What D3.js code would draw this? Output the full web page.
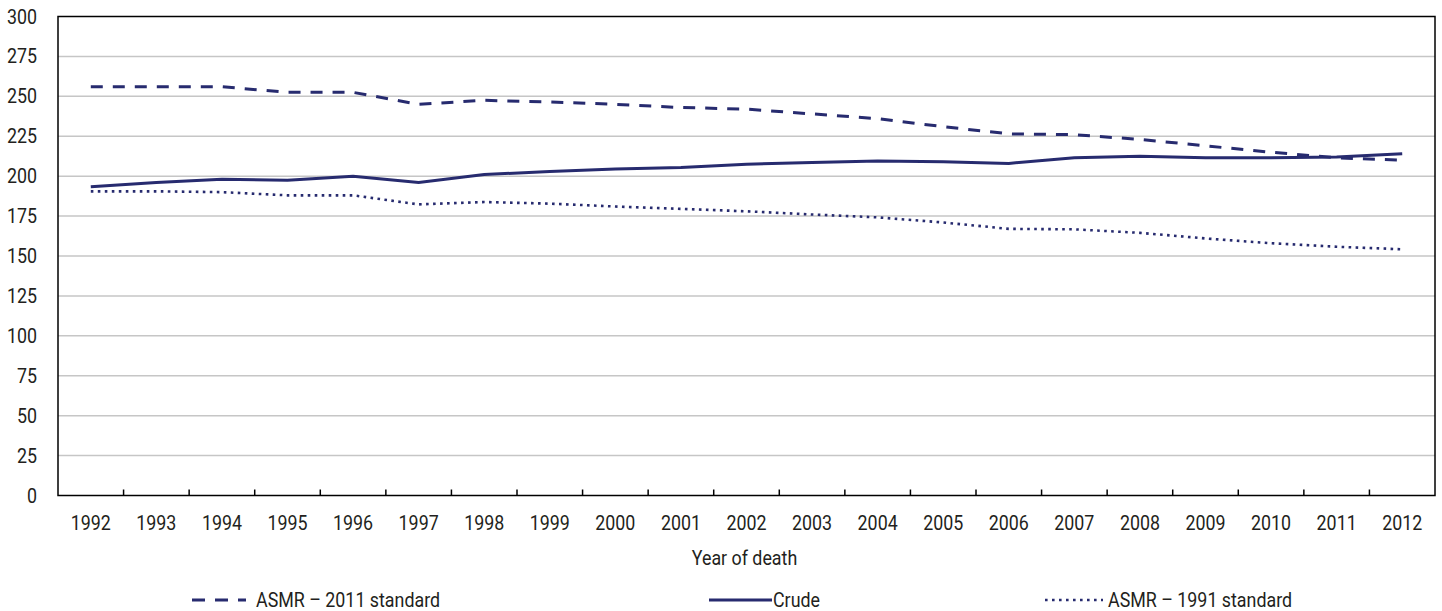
<!DOCTYPE html>
<html><head><meta charset="utf-8">
<script src="https://cdn.jsdelivr.net/npm/d3@7"></script>
<style>
html,body{margin:0;padding:0;background:#fff;}
svg text{font-family:"Roboto","Liberation Sans",sans-serif;fill:#231f20;}
</style></head>
<body>
<svg id="c" width="1442" height="611"></svg>
<script>
const years = ["1992","1993","1994","1995","1996","1997","1998","1999","2000","2001","2002","2003","2004","2005","2006","2007","2008","2009","2010","2011","2012"];
const asmr2011 = [256,256,256,252.5,252.5,245,247.5,246.5,245,243,242,239,236,231,226.5,226,223,219,215,211.5,210];
const crude = [193.3,196,198,197.5,200,196,201,203,204.5,205.5,207.5,208.5,209.5,209,208,211.5,212.5,211.5,211.5,212,214];
const asmr1991 = [190.5,190.5,190,188,188,182.3,183.8,182.8,181,179.5,178,176,174.2,171,167,166.7,164.5,161,158,155.8,154.2];
const yTicks = [0,25,50,75,100,125,150,175,200,225,250,275,300];
const seriesNames = ["ASMR \u2013 2011 standard","Crude","ASMR \u2013 1991 standard"];

const color = "#272b6f";
const SX = 0.85, FS = 21;
const L = 58, R = 1435, T = 16.5, B = 495.5;
const svg = d3.select("#c");
const x = d3.scaleBand().domain(years).range([L, R]);
const y = d3.scaleLinear().domain([0,300]).range([B, T]);

function txt(sel, fx, fy) {
  return sel.attr("x", 0).attr("y", 0).attr("font-size", FS)
    .attr("transform", (d,i) => `translate(${fx(d,i)},${fy(d,i)}) scale(${SX},1)`);
}

// gridlines
svg.append("g").selectAll("line").data(yTicks.filter(v=>v>0 && v<300)).join("line")
  .attr("x1", L).attr("x2", R).attr("y1", d=>y(d)).attr("y2", d=>y(d))
  .attr("stroke", "#c6c6c6").attr("stroke-width", 1.5);

// y labels
txt(svg.append("g").selectAll("text").data(yTicks).join("text"), d=>37, d=>y(d))
  .attr("text-anchor","end").attr("dominant-baseline","central").text(d=>d);

// x tick marks (inward)
const bounds = years.map(yr => x(yr)).slice(1);
svg.append("g").selectAll("line").data(bounds).join("line")
  .attr("x1", d=>d).attr("x2", d=>d).attr("y1", B).attr("y2", B-6)
  .attr("stroke", "#000").attr("stroke-width", 1.5);

// x labels
txt(svg.append("g").selectAll("text").data(years).join("text"), d=>x(d)+x.bandwidth()/2, d=>529.5)
  .attr("text-anchor","middle").text(d=>d);

txt(svg.append("text").datum(0), d=>(L+R)/2 - 2, d=>565).attr("text-anchor","middle").text("Year of death");

// lines
const line = d3.line().x((d,i)=>x(years[i])+x.bandwidth()/2).y(d=>y(d));
const styles = [
  {data: asmr2011, dash: "12,10", w: 3},
  {data: crude, dash: null, w: 3},
  {data: asmr1991, dash: "2.6,4.4", w: 2.6}
];
styles.forEach(s => {
  svg.append("path").datum(s.data).attr("d", line).attr("fill","none")
    .attr("stroke", color).attr("stroke-width", s.w)
    .attr("stroke-dasharray", s.dash);
});

// frame
svg.append("rect").attr("x", L).attr("y", T).attr("width", R-L).attr("height", B-T)
  .attr("fill","none").attr("stroke","#000").attr("stroke-width",1.5);

// legend
const leg = [
  {x1:192, x2:246, tx:256, dash:"13,10", w:3},
  {x1:709, x2:772, tx:773, dash:null, w:3},
  {x1:1045, x2:1103, tx:1108, dash:"2.6,4.4", w:2.6}
];
leg.forEach((l,i) => {
  svg.append("line").attr("x1", l.x1).attr("x2", l.x2).attr("y1", 600).attr("y2", 600)
    .attr("stroke", color).attr("stroke-width", l.w).attr("stroke-dasharray", l.dash);
  txt(svg.append("text").datum(i), d=>l.tx, d=>607).text(seriesNames[i]);
});
</script>
</body></html>
